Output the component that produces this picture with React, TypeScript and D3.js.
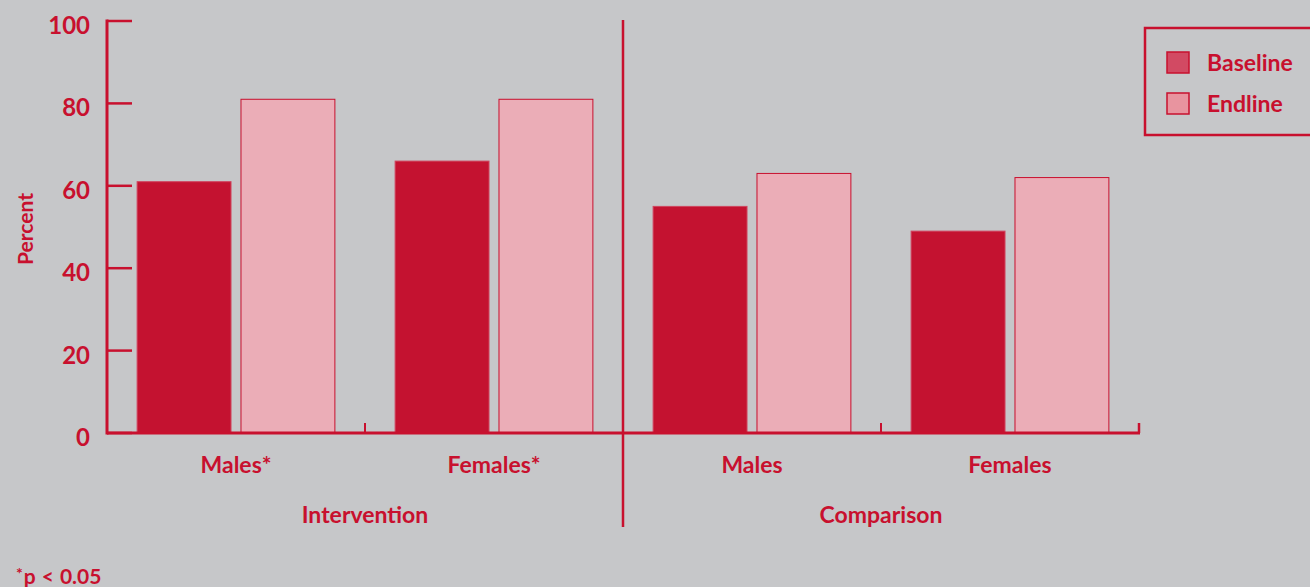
import * as d3 from "d3";

const WIDTH = 1310;
const HEIGHT = 587;
const RED = "#C8102E";
const BASE_FILL = "#C41230";
const END_FILL = "#EBADB7";
const BG = "#C6C7C9";
const FONT = "Lato, 'Open Sans', sans-serif";

const groups = ["Males*", "Females*", "Males", "Females"];
const arms = ["Intervention", "Comparison"];
const series = ["Baseline", "Endline"];
const baseline = [61, 66, 55, 49];
const endline = [81, 81, 63, 62];
const yTicks = [0, 20, 40, 60, 80, 100];

const X0 = 107;
const X1 = 1139;
const Y0 = 433;
const Y1 = 21;

export default function App() {
  const xGroup = d3.scaleBand<string>().domain(groups).range([X0, X1]).padding(0);
  const xSeries = d3
    .scaleBand<string>()
    .domain(series)
    .range([0, xGroup.bandwidth()])
    .paddingInner(0.096)
    .paddingOuter(0.29);
  const yScale = d3.scaleLinear().domain([0, 100]).range([Y0, Y1]);

  const xArm = d3.scaleBand<string>().domain(arms).range([X0, X1]);

  const bars = groups.map((g, i) => {
    const gx = xGroup(g) ?? 0;
    const vals = [baseline[i], endline[i]];
    return (
      <g key={g}>
        {series.map((s, j) => (
          <rect
            key={s}
            x={gx + (xSeries(s) ?? 0)}
            y={yScale(vals[j])}
            width={xSeries.bandwidth()}
            height={yScale(0) - yScale(vals[j])}
            fill={j === 0 ? BASE_FILL : END_FILL}
            stroke={j === 0 ? "#D0455E" : RED}
            strokeWidth={1}
          />
        ))}
        <text
          x={gx + xGroup.bandwidth() / 2}
          y={473}
          textAnchor="middle"
          fontSize={23}
          fontWeight={700}
          fill={RED}
          fontFamily={FONT}
        >
          {g}
        </text>
      </g>
    );
  });

  return (
    <div style={{ position: "absolute", left: 0, top: 0 }}>
      <svg width={WIDTH} height={HEIGHT} style={{ display: "block" }}>
        <rect x={0} y={0} width={WIDTH} height={HEIGHT} fill={BG} />

        {bars}

        {/* y axis */}
        <line x1={X0} x2={X0} y1={Y1 - 1.5} y2={Y0 + 1.5} stroke={RED} strokeWidth={3} />
        {yTicks.map((t) => (
          <g key={t}>
            <line x1={X0} x2={X0 + 25} y1={yScale(t)} y2={yScale(t)} stroke={RED} strokeWidth={2.5} />
            <text
              x={90}
              y={yScale(t) + 13}
              textAnchor="end"
              fontSize={24}
              fontWeight={700}
              fill={RED}
              fontFamily={FONT}
            >
              {t}
            </text>
          </g>
        ))}
        <text
          transform={`translate(33,${(Y0 + Y1) / 2 + 2}) rotate(-90)`}
          textAnchor="middle"
          fontSize={21}
          fontWeight={700}
          fill={RED}
          fontFamily={FONT}
        >
          Percent
        </text>

        {/* x axis */}
        <line x1={X0} x2={X1 + 1} y1={Y0} y2={Y0} stroke={RED} strokeWidth={3} />
        {groups.slice(1).map((g) => (
          <line
            key={g}
            x1={xGroup(g) ?? 0}
            x2={xGroup(g) ?? 0}
            y1={Y0}
            y2={Y0 - 10}
            stroke={RED}
            strokeWidth={2}
          />
        ))}
        <line x1={X1} x2={X1} y1={Y0} y2={Y0 - 10} stroke={RED} strokeWidth={2.5} />

        {/* divider between arms */}
        <line
          x1={xArm("Comparison") ?? 0}
          x2={xArm("Comparison") ?? 0}
          y1={20}
          y2={527}
          stroke={RED}
          strokeWidth={2.5}
        />
        {arms.map((a) => (
          <text
            key={a}
            x={(xArm(a) ?? 0) + xArm.bandwidth() / 2}
            y={523}
            textAnchor="middle"
            fontSize={23}
            fontWeight={700}
            fill={RED}
            fontFamily={FONT}
          >
            {a}
          </text>
        ))}

        {/* legend */}
        <rect x={1145} y={28} width={200} height={107} fill="none" stroke={RED} strokeWidth={2.5} />
        {series.map((s, j) => (
          <g key={s} transform={`translate(1167,${52 + j * 41})`}>
            <rect
              x={0}
              y={0}
              width={22}
              height={21}
              fill={j === 0 ? "#D24A63" : "#E8949F"}
              stroke={RED}
              strokeWidth={1.5}
            />
            <text x={40} y={19} fontSize={23} fontWeight={700} fill={RED} fontFamily={FONT}>
              {s}
            </text>
          </g>
        ))}

        {/* footnote */}
        <text x={16} y={584} fontSize={21} fontWeight={700} fill={RED} fontFamily={FONT}>
          <tspan fontSize={16} dy={-5}>*</tspan>
          <tspan dy={5} dx={1}>p</tspan>
          <tspan dx={6}>&lt;</tspan>
          <tspan dx={6}>0.05</tspan>
        </text>
      </svg>
    </div>
  );
}
